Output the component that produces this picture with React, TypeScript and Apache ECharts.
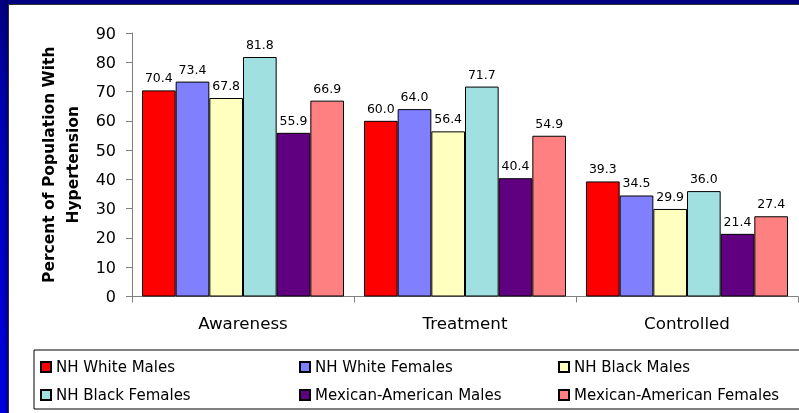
import React, { useEffect, useRef } from "react";
import * as echarts from "echarts";

const categories = ["Awareness", "Treatment", "Controlled"];
const seriesNames = [
  "NH White Males",
  "NH White Females",
  "NH Black Males",
  "NH Black Females",
  "Mexican-American Males",
  "Mexican-American Females",
];
const nhWhiteMales = [70.4, 60.0, 39.3];
const nhWhiteFemales = [73.4, 64.0, 34.5];
const nhBlackMales = [67.8, 56.4, 29.9];
const nhBlackFemales = [81.8, 71.7, 36.0];
const mexicanAmericanMales = [55.9, 40.4, 21.4];
const mexicanAmericanFemales = [66.9, 54.9, 27.4];
const seriesValues = [
  nhWhiteMales,
  nhWhiteFemales,
  nhBlackMales,
  nhBlackFemales,
  mexicanAmericanMales,
  mexicanAmericanFemales,
];
const seriesColors = ["#FF0000", "#8080FF", "#FFFFC0", "#A0E0E0", "#600080", "#FF8080"];
const yMin = 0;
const yMax = 90;
const yInterval = 10;
const yAxisTitle = "Percent of Population With\nHypertension";

const SANS = "DejaVu Sans, Verdana, sans-serif";

export default function App() {
  const ref = useRef<HTMLDivElement>(null);
  useEffect(() => {
    if (!ref.current) return;
    const chart = echarts.init(ref.current, undefined, { renderer: "svg" });
    const option: any = {
      animation: false,
      backgroundColor: "transparent",
      graphic: {
        elements: [
          { type: "rect", z: -30, silent: true, shape: { x: 0, y: 0, width: 799, height: 413 }, style: { fill: "#000080" } },
          {
            type: "rect", z: -29, silent: true,
            shape: { x: 0, y: 0, width: 8, height: 413 },
            style: {
              fill: new echarts.graphic.LinearGradient(0, 0, 0, 1, [
                { offset: 0, color: "#000080" },
                { offset: 0.25, color: "#0000B0" },
                { offset: 1, color: "#0000E0" },
              ]),
            },
          },
          {
            type: "rect", z: -28, silent: true,
            shape: { x: 4, y: 0, width: 4, height: 413 },
            style: {
              fill: new echarts.graphic.LinearGradient(0, 0, 1, 0, [
                { offset: 0, color: "rgba(0,0,60,0)" },
                { offset: 1, color: "rgba(0,0,60,0.5)" },
              ]),
            },
          },
          { type: "rect", z: -27, silent: true, shape: { x: 8, y: 4, width: 791, height: 409 }, style: { fill: "#303030" } },
          { type: "rect", z: -26, silent: true, shape: { x: 9, y: 5, width: 790, height: 408 }, style: { fill: "#FFFFFF" } },
        ],
      },
      grid: { left: 132, top: 33, right: 1, bottom: 116.5, containLabel: false },
      legend: {
        data: seriesNames,
        left: 34,
        top: 350,
        width: 800,
        orient: "horizontal",
        padding: [3, 6, 0, 6],
        itemGap: 0,
        itemWidth: 10,
        itemHeight: 10,
        icon: "rect",
        borderColor: "#000",
        borderWidth: 1,
        borderRadius: 0,
        textStyle: { fontFamily: SANS, fontSize: 15, color: "#000", width: 243, lineHeight: 28, overflow: "none" },
      },
      xAxis: {
        type: "category",
        data: categories,
        axisLine: { show: true, lineStyle: { color: "#808080", width: 1 } },
        axisTick: { show: true, length: 6, lineStyle: { color: "#808080" } },
        axisLabel: { fontFamily: SANS, fontSize: 16.7, color: "#000", margin: 18 },
        splitLine: { show: false },
      },
      yAxis: {
        type: "value",
        min: yMin,
        max: yMax,
        interval: yInterval,
        name: yAxisTitle,
        nameLocation: "middle",
        nameRotate: 90,
        nameGap: 47,
        nameTextStyle: { fontFamily: SANS, fontWeight: "bold", fontSize: 15.5, lineHeight: 24, color: "#000" },
        axisLine: { show: true, lineStyle: { color: "#808080", width: 1 } },
        axisTick: { show: true, length: 6, lineStyle: { color: "#808080" } },
        axisLabel: { fontFamily: SANS, fontSize: 16, color: "#000", margin: 16 },
        splitLine: { show: false },
      },
      series: seriesNames.map((name, i) => ({
        name,
        type: "bar",
        data: seriesValues[i],
        barGap: "0%",
        barCategoryGap: "9%",
        itemStyle: { color: seriesColors[i], borderColor: "#000", borderWidth: 1 },
        label: {
          show: true,
          position: "top",
          distance: 6,
          fontFamily: SANS,
          fontSize: 12.5,
          color: "#000",
          formatter: (p: any) => Number(p.value).toFixed(1),
        },
      })),
    };
    chart.setOption(option);
    return () => chart.dispose();
  }, []);
  return <div ref={ref} style={{ position: "fixed", left: 0, top: 0, width: 799, height: 413 }} />;
}
